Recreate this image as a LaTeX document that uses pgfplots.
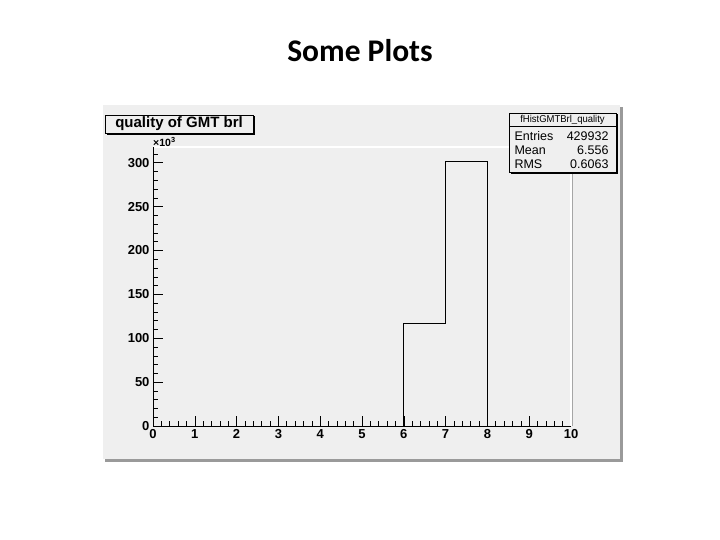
\documentclass[border=0pt]{standalone}
\usepackage{pgfplots}
\pgfplotsset{compat=1.18}
\usepackage{fontspec}
\setmainfont{Liberation Sans}
\newfontfamily\titlefont{Carlito}
\definecolor{canvas}{HTML}{EFEFEF}
\definecolor{shadow}{HTML}{9A9A9A}
\begin{document}
\begin{tikzpicture}
\fill[white] (0pt,0pt) rectangle (720pt,540pt);
\node[font=\titlefont\bfseries\fontsize{31.5}{31.5}\selectfont] at (360pt,489pt) {Some Plots};
\fill[shadow] (105pt,78pt) rectangle (623pt,433pt);
\fill[canvas] (103pt,81pt) rectangle (620pt,435pt);
\begin{axis}[
  at={(153pt,114pt)}, anchor=south west, scale only axis,
  width=418pt, height=279pt,
  xmin=0, xmax=10, ymin=0, ymax=318,
  axis line style={draw=none},
  xtick={0,1,...,10}, ytick={0,50,...,300},
  minor xtick={0.2,0.4,...,9.9},
  minor ytick={10,20,...,310},
  tick align=inside, xtick pos=bottom, ytick pos=left,
  major tick length=10pt, minor tick length=5pt,
  tick style={black, line width=0.6pt},
  ticklabel style={font=\bfseries\fontsize{13}{13}\selectfont},
  /pgf/number format/assume math mode=true,
  clip=false,
]
\draw[white, line width=1.2pt] (rel axis cs:0,1) -- (rel axis cs:1,1) -- (rel axis cs:1,0);
\draw[black!35, line width=0.5pt] ([xshift=1.5pt]rel axis cs:1,1) -- ([xshift=1.5pt]rel axis cs:1,0);
\addplot[const plot, black, line width=0.9pt] coordinates {
  (0,0) (1,0) (2,0) (3,0) (4,0) (5,0) (6,117) (7,302) (8,0) (9,0) (10,0)
};
\draw[black, line width=0.8pt] (rel axis cs:0,1) -- (rel axis cs:0,0) -- (rel axis cs:1,0);
\node[anchor=south west, inner sep=0pt, font=\bfseries\fontsize{10.5}{10.5}\selectfont] at ([yshift=0.5pt]rel axis cs:0,1) {×10\textsuperscript{3}};
\end{axis}
% histogram title box
\draw[black, line width=1.6pt] (106.5pt,406pt) -- (254pt,406pt) -- (254pt,423.5pt);
\filldraw[fill=canvas, draw=black, line width=0.8pt] (105pt,407pt) rectangle (253pt,425pt);
\node[font=\bfseries\fontsize{15}{15}\selectfont] at (179pt,416pt) {quality of GMT brl};
% stats box
\draw[black, line width=1.6pt] (510.5pt,367pt) -- (617pt,367pt) -- (617pt,425.5pt);
\filldraw[fill=canvas, draw=black, line width=0.8pt] (509pt,368pt) rectangle (616pt,427pt);
\draw[black, line width=0.7pt] (509pt,414pt) -- (616pt,414pt);
\node[font=\fontsize{10}{10}\selectfont, xscale=0.95] at (562.5pt,420.5pt) {fHistGMTBrl\_quality};
\node[anchor=west, font=\fontsize{12.5}{12.5}\selectfont] at (511pt,404pt) {Entries};
\node[anchor=east, font=\fontsize{12.5}{12.5}\selectfont] at (612pt,404pt) {429932};
\node[anchor=west, font=\fontsize{12.5}{12.5}\selectfont] at (511pt,389.5pt) {Mean};
\node[anchor=east, font=\fontsize{12.5}{12.5}\selectfont] at (612pt,389.5pt) {6.556};
\node[anchor=west, font=\fontsize{12.5}{12.5}\selectfont] at (511pt,375.5pt) {RMS};
\node[anchor=east, font=\fontsize{12.5}{12.5}\selectfont] at (612pt,375.5pt) {0.6063};
\end{tikzpicture}
\end{document}
